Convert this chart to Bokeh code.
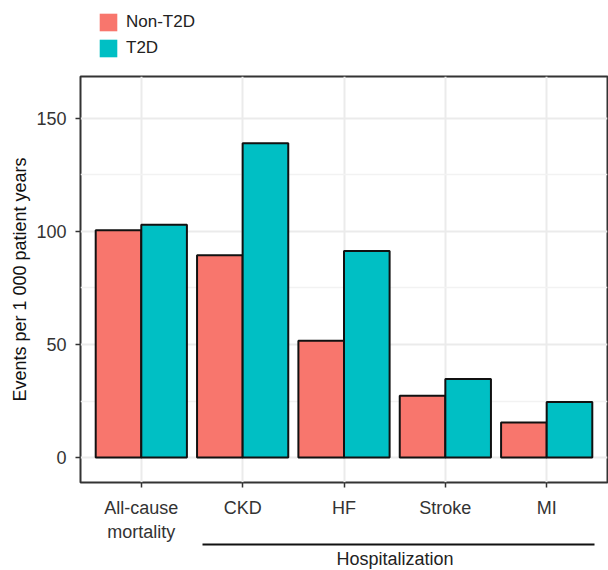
import numpy as np
from bokeh.plotting import figure
from bokeh.layouts import column
from bokeh.models import (ColumnDataSource, Range1d, FixedTicker, Legend, LegendItem,
                          LinearAxis, Title)
from bokeh.embed import file_html
from bokeh.resources import INLINE

categories = ["All-cause\nmortality", "CKD", "HF", "Stroke", "MI"]
non_t2d = [100.5, 89.5, 51.7, 27.3, 15.5]
t2d = [103, 139, 91.4, 34.8, 24.6]
series_names = ["Non-T2D", "T2D"]
y_ticks = [0, 50, 100, 150]
group_label = "Hospitalization"
group_span = (1.6, 5.47)

colors = ["#F8766D", "#00BFC4"]
FONT = "Liberation Sans"
FS = "18px"

# ---------- legend strip on top ----------
top = figure(width=608, height=75, output_backend="svg", toolbar_location=None,
             x_range=Range1d(0, 1), y_range=Range1d(0, 1),
             x_axis_location=None, y_axis_location=None,
             min_border=0, outline_line_color=None)
top.grid.visible = False
# legend keys: zero-height, invisible bars; only their legend swatches show
key_src = ColumnDataSource(dict(x=[0.5], top=[0]))
la = top.vbar(x="x", top="top", bottom=0, width=0, source=key_src, fill_color=colors[0],
              line_color=None)
lb = top.vbar(x="x", top="top", bottom=0, width=0, source=key_src, fill_color=colors[1],
              line_color=None)
legend = Legend(items=[LegendItem(label=series_names[0], renderers=[la]),
                       LegendItem(label=series_names[1], renderers=[lb])],
                location=(17, 16), margin=0, padding=0, spacing=4, glyph_width=22,
                glyph_height=22, label_standoff=7, border_line_color=None,
                background_fill_alpha=0, label_text_font=FONT, label_text_font_size="17px",
                label_text_color="#222222", label_height=22)
top.add_layout(legend)

# ---------- main chart ----------
x = np.arange(1, len(categories) + 1)
bw = 0.45
src_a = ColumnDataSource(dict(x=x - bw / 2, top=non_t2d))
src_b = ColumnDataSource(dict(x=x + bw / 2, top=t2d))

p = figure(width=608, height=495, output_backend="svg", toolbar_location=None,
           x_range=Range1d(0.4, 5.6), y_range=Range1d(-11, 168.5),
           min_border_left=80, min_border_right=1, min_border_top=1,
           min_border_bottom=5)

p.vbar(x="x", top="top", bottom=0, width=bw, source=src_a, fill_color=colors[0],
       line_color="#111111", line_width=2)
p.vbar(x="x", top="top", bottom=0, width=bw, source=src_b, fill_color=colors[1],
       line_color="#111111", line_width=2)

p.xaxis.ticker = FixedTicker(ticks=list(x))
p.xaxis.major_label_overrides = {int(i): c for i, c in zip(x, categories)}
p.yaxis.ticker = FixedTicker(ticks=y_ticks, minor_ticks=[25, 75, 125])
p.yaxis.axis_label = "Events per 1 000 patient years"
for ax in (p.xaxis[0], p.yaxis[0]):
    ax.axis_line_color = None
    ax.major_tick_out = 5
    ax.major_tick_in = 0
    ax.major_tick_line_color = "#333333"
    ax.major_tick_line_width = 1.5
    ax.minor_tick_line_color = None
    ax.major_label_text_font = FONT
    ax.major_label_text_font_size = FS
    ax.major_label_text_color = "#333333"
    ax.axis_label_text_font = FONT
    ax.axis_label_text_font_size = FS
    ax.axis_label_text_font_style = "normal"
    ax.axis_label_text_color = "#111111"
p.yaxis.major_label_standoff = 9
p.yaxis.axis_label_standoff = 3
p.xaxis.major_label_standoff = 10

p.xgrid.ticker = FixedTicker(ticks=list(x))
p.xgrid.grid_line_color = "#EBEBEB"
p.xgrid.grid_line_width = 2
p.ygrid.grid_line_color = "#EBEBEB"
p.ygrid.grid_line_width = 2
p.ygrid.minor_grid_line_color = "#F2F2F2"
p.ygrid.minor_grid_line_width = 1.5

p.outline_line_color = "#333333"
p.outline_line_width = 2

# group bracket under the hospitalization categories: a bounded axis line
bracket = LinearAxis(bounds=group_span, ticker=FixedTicker(ticks=[]),
                     major_tick_out=0, major_tick_in=0, minor_tick_out=0, minor_tick_in=0,
                     major_label_text_font_size="0px", axis_line_color="#111111",
                     axis_line_width=2)
p.add_layout(bracket, "below")
p.add_layout(Title(text=group_label, align="left", offset=256, text_font=FONT,
                   text_font_size=FS, text_font_style="normal", text_color="#222222",
                   standoff=4), "below")

layout = column(top, p, spacing=0)
open("out.html", "w").write(file_html(layout, INLINE))
